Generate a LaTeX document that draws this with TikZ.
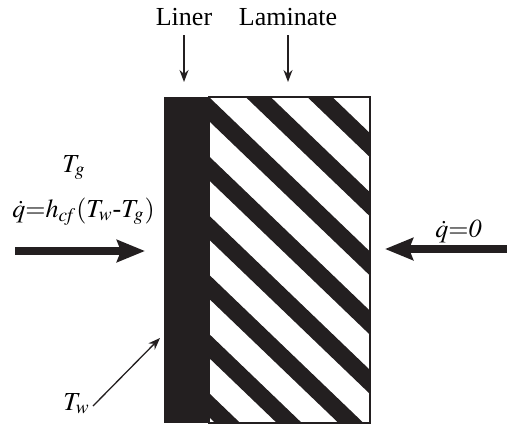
\documentclass[tikz,border=0pt]{standalone}
\usepackage{mathptmx}
\usepackage[no-math]{fontspec}
\setmainfont{Liberation Serif}
\newfontfamily\labelfont{Liberation Serif}
\usetikzlibrary{arrows.meta, positioning}
\definecolor{inkblack}{RGB}{35,31,32}

\begin{document}
\begin{tikzpicture}[
    x=0.5pt, y=-0.5pt,
    label text/.style={font=\labelfont\fontsize{13}{15}\selectfont, inner sep=0pt, anchor=base},
    pointer/.style={draw=inkblack, line width=0.65pt, -{Stealth[length=6pt, width=4.5pt]}},
    flux/.style={draw=inkblack, line width=4pt, -{Stealth[length=14pt, width=11pt, inset=2pt]}},
    stripe/.style={fill=inkblack}
]
\useasboundingbox (0,0) rectangle (507,429);

% Layers
\fill[inkblack] (164,97) rectangle (209,423);
\begin{scope}
  \clip (209,97) rectangle (370,423);
  \foreach \k in {-3,...,6}
    \fill[stripe] (200, {98+59.2*\k-9.6}) -- (380, {98+59.2*\k+163.2}) -- (380, {122+59.2*\k+163.2}) -- (200, {122+59.2*\k-9.6}) -- cycle;
\end{scope}
\draw[inkblack, line width=0.75pt] (209,97) rectangle (370,423);

% Labels
\node[label text] (linerlabel) at (184,25) {Liner};
\node[label text] (laminatelabel) at (288,25) {Laminate};
\node[label text, anchor=base west] (gaslabel) at (62,172) {$T_g$};
\node[label text, anchor=base west] (fluxinlabel) at (12,217) {$\dot{q}{=}h_{\mathit{cf}}(T_w\mbox{-}T_g)$};
\node[label text, anchor=base west] (fluxoutlabel) at (435,237) {$\dot{q}{=}\mathit{0}$};
\node[label text, anchor=base west] (walllabel) at (63,410) {$T_w$};

% Pointers
\coordinate (linertip) at (183,82);
\coordinate (laminatetip) at (290,82);
\draw[pointer, shorten <=5pt] (linerlabel.south |- 0,25) -- (linerlabel.south |- linertip);
\draw[pointer, shorten <=5pt] (laminatelabel.south |- 0,25) -- (laminatelabel.south |- laminatetip);
\coordinate (wallstart) at (93,406);
\coordinate (walltip) at (160,338);
\draw[pointer] (wallstart) -- (walltip);

% Heat flux
\coordinate (fluxinstart) at (15,251);
\coordinate (fluxintip) at (145,251);
\coordinate (fluxoutstart) at (507,249);
\coordinate (fluxouttip) at (385,249);
\draw[flux] (fluxinstart) -- (fluxintip);
\draw[flux] (fluxoutstart) -- (fluxouttip);

\end{tikzpicture}
\end{document}
